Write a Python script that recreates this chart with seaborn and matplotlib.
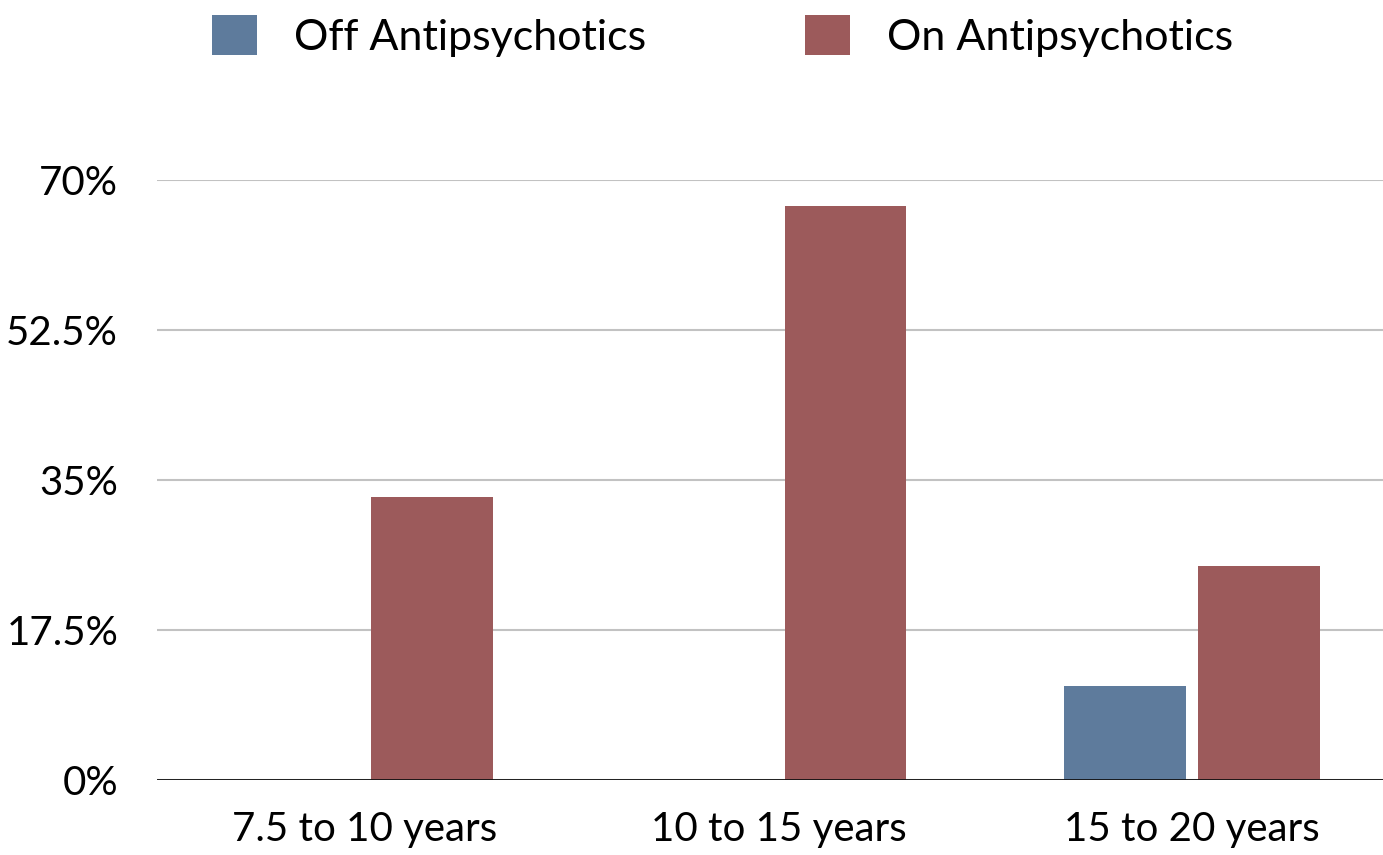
import matplotlib
matplotlib.use("Agg")
import matplotlib.pyplot as plt
import seaborn as sns
import pandas as pd

categories = ["7.5 to 10 years", "10 to 15 years", "15 to 20 years"]
series_names = ["Off Antipsychotics", "On Antipsychotics"]
off_values = [0, 0, 11]
on_values = [33, 67, 25]
y_ticks = [0, 17.5, 35, 52.5, 70]
y_tick_labels = ["0%", "17.5%", "35%", "52.5%", "70%"]

colors = {"Off Antipsychotics": "#5e7b9c", "On Antipsychotics": "#9c5a5b"}

df = pd.DataFrame({
    "period": categories * 2,
    "group": [series_names[0]] * 3 + [series_names[1]] * 3,
    "value": off_values + on_values,
})

sns.set_theme(style="white")
plt.rcParams["font.family"] = ["Lato", "DejaVu Sans"]
plt.rcParams["text.color"] = "black"

fig = plt.figure(figsize=(13.83, 8.55), dpi=100)
ax = fig.add_axes([157 / 1383, 75 / 855, 1 - 157 / 1383, 600 / 855])

sns.barplot(data=df, x="period", y="value", hue="group", order=categories,
            hue_order=series_names, palette=colors, width=0.648, gap=0.09,
            saturation=1, ax=ax, zorder=3, linewidth=0)

ax.set_ylim(0, 70)
ax.set_xlim(-0.503, 2.462)
ax.set_yticks(y_ticks)
ax.set_yticklabels(y_tick_labels)
ax.yaxis.grid(True, color="#c2c2c2", linewidth=1.5, zorder=0)
ax.xaxis.grid(False)
for s in ax.spines.values():
    s.set_visible(False)
ax.axhline(0, color="#111111", linewidth=2, zorder=4)
ax.set_xlabel("")
ax.set_ylabel("")
ax.tick_params(axis="y", length=0, pad=28, labelsize=29, labelcolor="black")
ax.tick_params(axis="x", length=0, pad=22, labelsize=29, labelcolor="black")

handles, labels = ax.get_legend_handles_labels()
if ax.legend_:
    ax.legend_.remove()
fig.legend(handles, labels, loc="center", bbox_to_anchor=(0.5225, 1 - 36 / 855),
           ncol=2, frameon=False, fontsize=31, handlelength=1.04, handleheight=1.04,
           handletextpad=0.86, columnspacing=3.7, labelcolor="black")

fig.savefig("out.png", dpi=100)
